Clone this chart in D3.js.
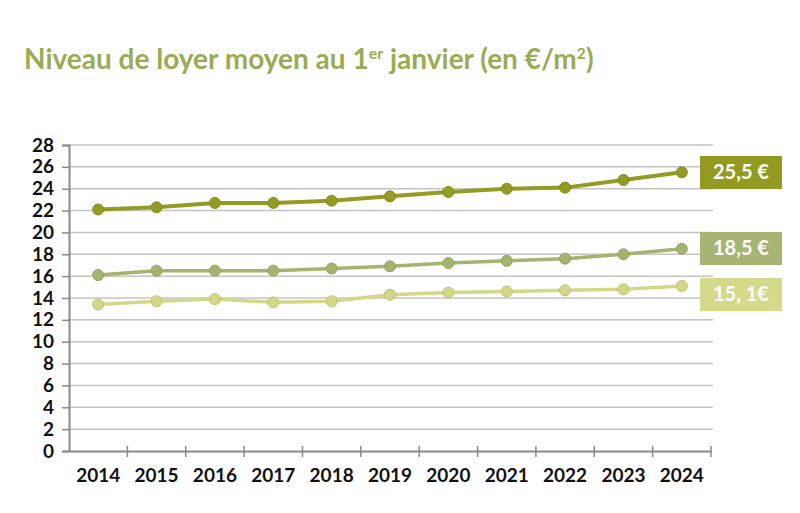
<!DOCTYPE html>
<html>
<head>
<meta charset="utf-8">
<script src="https://cdn.jsdelivr.net/npm/d3@7"></script>
<style>
  body { margin: 0; background: #fff; }
  svg text { font-family: "Lato", "DejaVu Sans", sans-serif; }
</style>
</head>
<body>
<script>
var years = [2014, 2015, 2016, 2017, 2018, 2019, 2020, 2021, 2022, 2023, 2024];
var seriesHigh = [22.1, 22.3, 22.7, 22.7, 22.9, 23.3, 23.7, 24.0, 24.1, 24.8, 25.5];
var seriesMid = [16.1, 16.5, 16.5, 16.5, 16.7, 16.9, 17.2, 17.4, 17.6, 18.0, 18.5];
var seriesLow = [13.4, 13.7, 13.9, 13.6, 13.7, 14.3, 14.5, 14.6, 14.7, 14.8, 15.1];
var endLabels = ["25,5 €", "18,5 €", "15, 1€"];
var yTicks = d3.range(0, 30, 2);

var allSeries = [
    {values: seriesHigh, line: "#939b22", box: "#939a20", label: endLabels[0]},
    {values: seriesMid, line: "#a3b46e", box: "#a6b573", label: endLabels[1]},
    {values: seriesLow, line: "#d3d786", box: "#d5d98a", label: endLabels[2]}
];

var width = 800, height = 513;
var plotLeft = 69, plotRight = 711, plotTop = 145, plotBottom = 451;

var svg = d3.select("body").append("svg")
    .attr("width", width)
    .attr("height", height);

// title
var title = svg.append("text")
    .attr("x", 24)
    .attr("y", 69)
    .attr("fill", "#9aab55")
    .attr("font-size", 28)
    .attr("font-weight", "bold");
title.append("tspan").text("Niveau de loyer moyen au 1");
title.append("tspan").attr("font-size", 16).attr("dy", -10).text("er");
title.append("tspan").attr("dy", 10).text(" janvier (en €/m");
title.append("tspan").attr("font-size", 16).attr("dy", -10).text("2");
title.append("tspan").attr("dy", 10).text(")");

var x = d3.scaleBand()
    .domain(years)
    .range([plotLeft, plotRight]);

var y = d3.scaleLinear()
    .domain([0, 28])
    .range([plotBottom, plotTop]);

// grid lines
svg.append("g")
    .selectAll("line")
    .data(yTicks.filter(function (d) { return d > 0; }))
    .enter().append("line")
    .attr("x1", plotLeft)
    .attr("x2", plotRight + 2)
    .attr("y1", function (d) { return y(d); })
    .attr("y2", function (d) { return y(d); })
    .attr("stroke", "#c4c4c4")
    .attr("stroke-width", 1.5);

// y axis
var yAxis = svg.append("g")
    .attr("transform", "translate(" + plotLeft + ",0)")
    .call(d3.axisLeft(y).tickValues(yTicks).tickSize(7).tickPadding(8));
yAxis.select(".domain").attr("stroke", "#8a8a8a").attr("stroke-width", 2);
yAxis.selectAll(".tick line").attr("stroke", "#8a8a8a").attr("stroke-width", 1.5);
yAxis.selectAll("text")
    .attr("font-size", 19)
    .attr("font-weight", "bold")
    .attr("fill", "#111");

// x axis
var xAxis = svg.append("g")
    .attr("transform", "translate(0," + plotBottom + ")")
    .call(d3.axisBottom(x).tickSize(0).tickPadding(18));
xAxis.select(".domain").attr("stroke", "#8a8a8a").attr("stroke-width", 2);
xAxis.selectAll("text")
    .attr("font-size", 19)
    .attr("font-weight", "bold")
    .attr("fill", "#111");
// tick marks between years
svg.append("g")
    .selectAll("line")
    .data(years.slice(1).concat(["end"]))
    .enter().append("line")
    .attr("x1", function (d, i) { return i < years.length - 1 ? x(d) : plotRight; })
    .attr("x2", function (d, i) { return i < years.length - 1 ? x(d) : plotRight; })
    .attr("y1", plotBottom - 5)
    .attr("y2", plotBottom + 6)
    .attr("stroke", "#8a8a8a")
    .attr("stroke-width", 1.5);

var line = d3.line()
    .x(function (d, i) { return x(years[i]) + x.bandwidth() / 2; })
    .y(function (d) { return y(d); });

allSeries.forEach(function (s, k) {
    svg.append("path")
        .datum(s.values)
        .attr("d", line)
        .attr("fill", "none")
        .attr("stroke", s.line)
        .attr("stroke-width", k === 0 ? 4 : 3.5);

    svg.append("g")
        .selectAll("circle")
        .data(s.values)
        .enter().append("circle")
        .attr("cx", function (d, i) { return x(years[i]) + x.bandwidth() / 2; })
        .attr("cy", function (d) { return y(d); })
        .attr("r", 5.5)
        .attr("fill", s.line)
        .attr("stroke", d3.color(s.line).darker(0.3))
        .attr("stroke-width", 1);

    // end label box
    var boxTop = [156, 232, 278][k];
    svg.append("rect")
        .attr("x", 700)
        .attr("y", boxTop)
        .attr("width", 82)
        .attr("height", 33)
        .attr("fill", s.box);
    svg.append("text")
        .attr("x", 741)
        .attr("y", boxTop + 23)
        .attr("text-anchor", "middle")
        .attr("font-size", 20)
        .attr("font-weight", "bold")
        .attr("fill", "#fff")
        .text(s.label);
});
</script>
</body>
</html>
